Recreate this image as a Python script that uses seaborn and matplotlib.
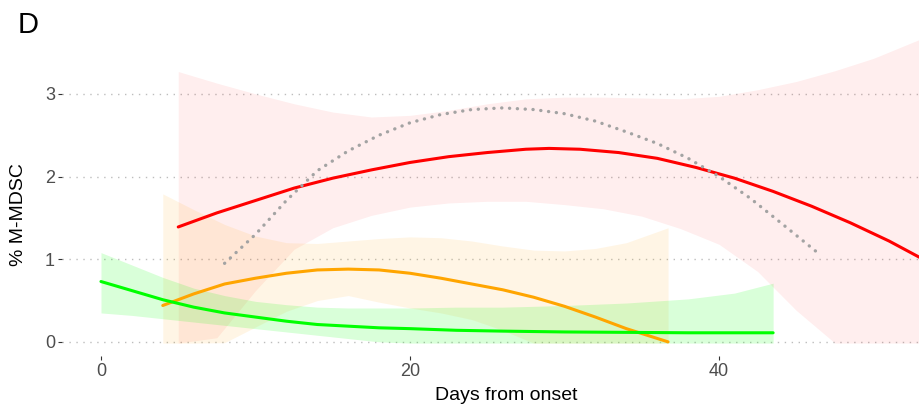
import numpy as np
import pandas as pd
import matplotlib
matplotlib.use("Agg")
import matplotlib.pyplot as plt
import seaborn as sns

# values (days from onset vs % M-MDSC)
red_days = [5, 7.5, 10, 12.5, 15, 17.5, 20, 22.5, 25, 27.5, 29, 31, 33.5, 36,
            38.5, 41, 43.5, 46, 48.5, 51, 53]
red_fit = [1.39, 1.56, 1.71, 1.86, 1.98, 2.08, 2.17, 2.24, 2.29, 2.33, 2.34, 2.33,
           2.29, 2.22, 2.11, 1.98, 1.82, 1.64, 1.44, 1.22, 1.02]
red_band_days = [5, 7.5, 10, 12.5, 15, 17.5, 20, 22.5, 25, 27.5, 30, 32.5, 35,
                 37.5, 40, 42.5, 45, 47.5, 50, 53]
red_hi = [3.27, 3.13, 3.00, 2.88, 2.78, 2.72, 2.74, 2.80, 2.88, 2.94, 2.96, 2.96,
          2.95, 2.94, 2.97, 3.05, 3.15, 3.28, 3.43, 3.66]
red_lo = [-0.4, 0.05, 0.62, 1.12, 1.38, 1.53, 1.63, 1.68, 1.70, 1.70, 1.66, 1.61,
          1.52, 1.37, 1.18, 0.85, 0.38, -0.15, -0.7, -1.4]

orange_days = [4, 6, 8, 10, 12, 14, 16, 18, 20, 22, 24, 26, 28, 30, 32, 34, 36.7]
orange_fit = [0.44, 0.58, 0.70, 0.77, 0.83, 0.87, 0.88, 0.87, 0.83, 0.77, 0.70,
              0.63, 0.54, 0.43, 0.30, 0.16, 0.0]
orange_hi = [1.79, 1.60, 1.42, 1.28, 1.20, 1.19, 1.22, 1.25, 1.27, 1.26, 1.22,
             1.16, 1.11, 1.10, 1.13, 1.20, 1.38]
orange_lo = [-0.5, -0.2, -0.01, 0.18, 0.37, 0.50, 0.56, 0.48, 0.41, 0.35, 0.27,
             0.14, -0.02, -0.2, -0.4, -0.65, -1.0]

green_days = [0, 2, 4, 6, 8, 10, 12, 14, 16, 18, 20, 23, 26, 30, 34, 38, 41, 43.5]
green_fit = [0.73, 0.62, 0.51, 0.42, 0.35, 0.30, 0.25, 0.21, 0.19, 0.17, 0.16,
             0.14, 0.13, 0.12, 0.115, 0.11, 0.11, 0.11]
green_hi = [1.08, 0.93, 0.78, 0.65, 0.56, 0.49, 0.45, 0.42, 0.41, 0.41, 0.41,
            0.42, 0.42, 0.44, 0.47, 0.52, 0.59, 0.71]
green_lo = [0.35, 0.32, 0.28, 0.24, 0.20, 0.16, 0.12, 0.08, 0.04, 0.0, -0.02,
            -0.06, -0.09, -0.10, -0.10, -0.11, -0.12, -0.15]

grey_days = [8, 10, 12, 14, 16, 18, 20, 22, 24, 26, 28, 30, 32, 34, 36, 38, 40,
             42, 44, 46.5]
grey_fit = [0.95, 1.30, 1.71, 2.07, 2.31, 2.50, 2.65, 2.75, 2.81, 2.83, 2.81, 2.76,
            2.67, 2.54, 2.40, 2.22, 2.00, 1.74, 1.44, 1.06]

y_ticks = [0, 1, 2, 3]
x_ticks = [0, 20, 40]

sns.set_theme(style="white")
plt.rcParams["font.family"] = ["Liberation Sans", "DejaVu Sans"]

fig = plt.figure(figsize=(9.19, 4.11), dpi=100)
ax = fig.add_axes([0.0675, 0.134, 0.9325, 0.7986])

# confidence ribbons, cut at the bottom of the scale like the original
bands = [
    (red_band_days, red_lo, red_hi, "#FF0000", 0.065),
    (orange_days, orange_lo, orange_hi, "#FFA500", 0.10),
    (green_days, green_lo, green_hi, "#00FF00", 0.15),
]
for days, lo, hi, col, a in bands:
    ax.fill_between(days, np.maximum(lo, -0.015), hi, color=col, alpha=a,
                    linewidth=0, zorder=1)

for y in y_ticks:
    ax.axhline(y, color="#BDBDBD", linewidth=1, linestyle=(0, (1, 4)), zorder=0.5)

lines = pd.concat([
    pd.DataFrame({"day": red_days, "pct": red_fit, "group": "red"}),
    pd.DataFrame({"day": orange_days, "pct": orange_fit, "group": "orange"}),
    pd.DataFrame({"day": green_days, "pct": green_fit, "group": "green"}),
])
sns.lineplot(data=lines, x="day", y="pct", hue="group",
             palette={"red": "#FF0000", "orange": "#FFA500", "green": "#00FF00"},
             linewidth=2.2, legend=False, ax=ax, zorder=3)

grey = pd.DataFrame({"day": grey_days, "pct": grey_fit})
sns.lineplot(data=grey, x="day", y="pct", color="#A3A3A3", linewidth=2.4,
             linestyle=(0, (0.05, 2.3)), dash_capstyle="round", ax=ax, zorder=3)

ax.set_xlim(-2.52, 52.94)
ax.set_ylim(-0.17, 3.8)
ax.set_xticks(x_ticks)
ax.set_yticks(y_ticks)
for s in ax.spines.values():
    s.set_visible(False)
ax.grid(False)
ax.tick_params(axis="both", length=3, width=0.8, color="#333333",
               labelcolor="#4D4D4D", labelsize=13, pad=2)
ax.tick_params(axis="y", left=True, bottom=False)
ax.tick_params(axis="x", bottom=True)

ax.set_xlabel("Days from onset", fontsize=14, color="black")
ax.set_ylabel("% M-MDSC", fontsize=14, color="black")
ax.xaxis.set_label_coords((506 - 62) / 857, -0.095)
ax.yaxis.set_label_coords(-0.041, (356 - 215) / 328.3)
ax.patch.set_alpha(0)

fig.text(18 / 919, 1 - 33 / 411, "D", fontsize=21, color="black",
         ha="left", va="baseline")

fig.savefig("out.png", dpi=100)
